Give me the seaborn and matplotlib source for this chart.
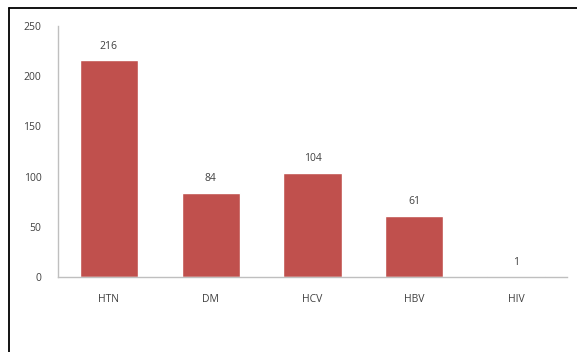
import matplotlib
matplotlib.use("Agg")
import matplotlib.pyplot as plt
import seaborn as sns
import pandas as pd
from matplotlib.lines import Line2D

categories = ["HTN", "DM", "HCV", "HBV", "HIV"]
values = [216, 84, 104, 61, 1]
y_ticks = [0, 50, 100, 150, 200, 250]

sns.set_theme(style="white")
plt.rcParams['font.family'] = ['Open Sans', 'DejaVu Sans']

df = pd.DataFrame({"cat": categories, "val": values})

fig = plt.figure(figsize=(5.77, 3.52), dpi=100)
ax = fig.add_axes([58/577, 1-277/352, (567-58)/577, (277-26)/352])
sns.barplot(data=df, x="cat", y="val", color="#C0504D", saturation=1, width=0.57, ax=ax)

ax.set_ylim(0, 250)
ax.set_yticks(y_ticks)
ax.set_xlim(-0.5, len(categories) - 0.5)
ax.set_xlabel("")
ax.set_ylabel("")
for s in ["top", "right"]:
    ax.spines[s].set_visible(False)
for s in ["left", "bottom"]:
    ax.spines[s].set_color("#BFBFBF")
    ax.spines[s].set_linewidth(1)
ax.tick_params(axis="both", length=0, labelsize=7.5, colors="#404040")
ax.tick_params(axis="y", pad=12)
ax.tick_params(axis="x", pad=12)

for i, v in enumerate(values):
    ax.annotate(str(v), (i, v), xytext=(0, 6), textcoords="offset points",
                ha="center", va="bottom", fontsize=7.5, color="#404040")

# outer frame: left and top edges only
x0 = 8.5 / 577
y0 = 1 - 8 / 352
fig.add_artist(Line2D([x0, x0], [0, y0], transform=fig.transFigure, color="black", linewidth=1.3))
fig.add_artist(Line2D([x0, 1], [y0, y0], transform=fig.transFigure, color="black", linewidth=1.3))

fig.savefig("out.png", dpi=100)
